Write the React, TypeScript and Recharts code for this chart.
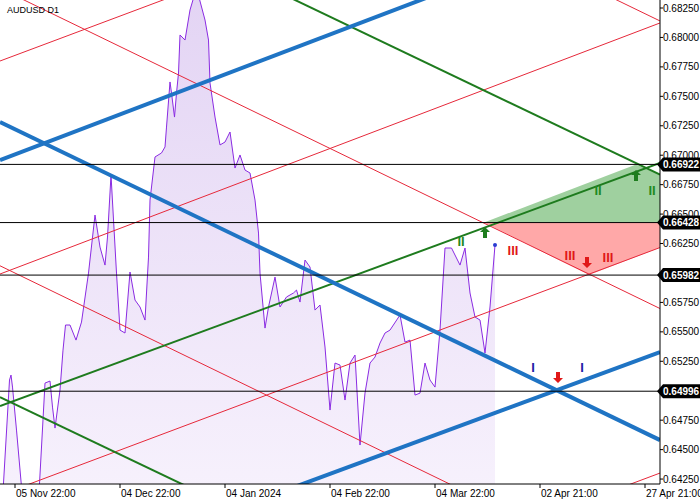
import React from 'react';
import {
  ComposedChart,
  Area,
  XAxis,
  YAxis,
  ReferenceLine,
  ReferenceDot,
} from 'recharts';

// D1 closes, bar index (left edge = 0) and price
const closeBars = [
  0.2, 1.9, 2.2, 2.5, 3.3, 5.0, 7.5, 9.0, 10.0, 10.5, 11.0, 12.0, 12.6, 13.1, 14.0, 15.2, 16.3, 17.7,
  19.0, 20.0, 21.0, 21.5, 22.2, 23.3, 24.0, 25.0, 26.0, 27.0, 28.0, 29.0, 29.7, 30.0, 31.0, 32.3,
  33.0, 33.3, 34.0, 34.3, 34.9, 35.3, 35.7, 36.0, 37.0, 38.0, 39.3, 41.0, 41.7, 42.0, 43.0, 44.0,
  45.0, 46.0, 47.0, 48.0, 49.0, 50.0, 51.0, 51.7, 52.0, 53.0, 53.7, 55.0, 56.0, 57.3, 58.7, 59.3,
  60.0, 61.0, 62.0, 63.0, 64.0, 65.0, 66.0, 67.0, 68.0, 69.0, 70.0, 71.0, 72.0, 73.0, 74.0, 75.0,
  76.0, 77.0, 78.0, 80.0, 81.0, 82.0, 83.0, 84.0, 85.0, 86.0, 87.0, 88.0, 89.0, 90.3, 92.0, 93.0,
  94.0, 95.0, 96.0, 97.0, 98.0, 99.0,
];
const closePrices = [
  0.6385, 0.65091, 0.65133, 0.65031, 0.64666, 0.6385, 0.639, 0.65065, 0.65082, 0.64861, 0.64683,
  0.65006, 0.65345, 0.65558, 0.65558, 0.6543, 0.65583, 0.65999, 0.66492, 0.6622, 0.66067, 0.66305,
  0.66832, 0.65999, 0.65515, 0.6549, 0.66008, 0.6577, 0.65711, 0.656, 0.66135, 0.66619, 0.66985,
  0.67019, 0.6707, 0.67239, 0.67622, 0.67528, 0.67324, 0.67528, 0.67698, 0.68021, 0.67978, 0.68233,
  0.6842, 0.68148, 0.67978, 0.67613, 0.67324, 0.67087, 0.67112, 0.67197, 0.66891, 0.67002, 0.66874,
  0.66849, 0.66619, 0.66339, 0.65999, 0.65532, 0.65711, 0.65965, 0.65711, 0.65796, 0.6583, 0.65855,
  0.65753, 0.6611, 0.6605, 0.65685, 0.65728, 0.65371, 0.64836, 0.65235, 0.65218, 0.64921, 0.65235,
  0.65303, 0.64539, 0.6498, 0.65235, 0.65286, 0.65405, 0.6549, 0.65515, 0.65643, 0.65413, 0.6543,
  0.64963, 0.6498, 0.65235, 0.65091, 0.65031, 0.65515, 0.66212, 0.66212, 0.66067, 0.66212, 0.6583,
  0.65626, 0.656, 0.6532, 0.65711, 0.66237,
];

const timeTicks = [3, 24, 45, 66, 87, 108, 129];
const timeLabels = [
  '05 Nov 22:00',
  '04 Dec 22:00',
  '04 Jan 2024',
  '04 Feb 22:00',
  '04 Mar 22:00',
  '02 Apr 21:00',
  '27 Apr 21:00',
];
const priceTicks = [
  0.6425, 0.645, 0.6475, 0.65, 0.6525, 0.655, 0.6575, 0.66, 0.6625, 0.665, 0.6675, 0.67, 0.6725,
  0.675, 0.6775, 0.68, 0.6825,
];

const levelPrices = [0.66922, 0.66428, 0.65982, 0.64996];

// trend lines: price at the left edge (bar 0) and at the right edge (bar 132)
const redStart = [0.68417, 0.66061, 0.70857, 0.678, 0.65991, 0.64114, 0.62199];
const redEnd = [0.65698, 0.63341, 0.6814, 0.69898, 0.68123, 0.66216, 0.64301];
const greenStart = [0.6487, 0.69516, 0.64946];
const greenEnd = [0.66934, 0.66836, 0.62267];
const blueStart = [0.66959, 0.67282, 0.6326];
const blueEnd = [0.69091, 0.64581, 0.65328];

// target zones above / below the 0.66428 level
const buyZoneBars = [96.8, 127.2, 132];
const buyZoneTop = [0.66428, 0.66922, 0.66836];
const sellZoneBars = [96.8, 117.8, 132];
const sellZoneBottom = [0.66428, 0.65982, 0.66216];

const waveText = ['II', 'II', 'II', 'III', 'III', 'III', 'I', 'I'];
const waveBars = [92.2, 119.6, 130.4, 102.6, 114, 121.6, 106.6, 116.4];
const wavePrices = [0.66271, 0.66704, 0.66704, 0.66195, 0.66152, 0.66135, 0.65201, 0.65201];
const waveColors = ['#1f8a1f', '#1f8a1f', '#1f8a1f', '#e01818', '#e01818', '#e01818', '#2020a8', '#2020a8'];

const arrowDirs = ['up', 'up', 'down', 'down'];
const arrowBars = [97, 127.2, 117.4, 111.6];
const arrowPrices = [0.66339, 0.66823, 0.66093, 0.65116];

const X_MAX = 132;
const Y_MIN = 0.64208;
const Y_MAX = 0.68318;

const priceData = closeBars.map((bar, i) => ({ bar, close: closePrices[i] }));
const buyZone = buyZoneBars.map((bar, i) => ({ bar, range: [levelPrices[1], buyZoneTop[i]] }));
const sellZone = sellZoneBars.map((bar, i) => ({ bar, range: [sellZoneBottom[i], levelPrices[1]] }));

const FONT = '"Liberation Sans", Arial, sans-serif';

const TimeTick = (props: any) => {
  const { x, y, payload } = props;
  const idx = timeTicks.indexOf(payload.value);
  return (
    <text x={x + 1} y={y + 9} fontSize={10} fontFamily={FONT} fill="#000" textAnchor="start">
      {timeLabels[idx]}
    </text>
  );
};

// plain price labels first, level tags last so they cover the labels under them
const PriceTick = (props: any) => {
  const { x, y, payload } = props;
  const v = payload.value;
  if (levelPrices.includes(v)) {
    return (
      <g>
        <path
          d={`M${x - 6},${y} L${x},${y - 7} L${x + 40},${y - 7} L${x + 40},${y + 7} L${x},${y + 7} Z`}
          fill="#000"
        />
        <text x={x} y={y} dy="0.36em" fontSize={10} fontWeight="bold" fontFamily={FONT} fill="#fff">
          {v.toFixed(5)}
        </text>
      </g>
    );
  }
  return (
    <text x={x} y={y} dy="0.36em" fontSize={10} fontFamily={FONT} fill="#000" textAnchor="start">
      {v.toFixed(5)}
    </text>
  );
};

const WaveMark = (text: string, color: string) => (props: any) => (
  <text
    x={props.cx}
    y={props.cy}
    dy="0.36em"
    textAnchor="middle"
    fontSize={13}
    fontWeight="bold"
    fontFamily={FONT}
    fill={color}
  >
    {text}
  </text>
);

const ArrowMark = (dir: string) => (props: any) => {
  const { cx, cy } = props;
  const s = dir === 'up' ? 1 : -1;
  const color = dir === 'up' ? '#1e7d1e' : '#e01818';
  const d = `M${cx},${cy - 6 * s} L${cx + 5},${cy - 1 * s} L${cx + 2},${cy - 1 * s} L${cx + 2},${cy + 5 * s} L${cx - 2},${cy + 5 * s} L${cx - 2},${cy - 1 * s} L${cx - 5},${cy - 1 * s} Z`;
  return <path d={d} fill={color} />;
};

const trend = (starts: number[], ends: number[], color: string, width: number, key: string) =>
  starts.map((p, i) => (
    <ReferenceLine
      key={`${key}${i}`}
      segment={[
        { x: 0, y: p },
        { x: X_MAX, y: ends[i] },
      ]}
      stroke={color}
      strokeWidth={width}
      ifOverflow="hidden"
    />
  ));

export default function App() {
  return (
    <div style={{ position: 'fixed', left: 0, top: 0, width: 700, height: 500, background: '#fff' }}>
      <ComposedChart width={700} height={500} margin={{ top: 0, right: 0, bottom: 0, left: 0 }}>
        <defs>
          <linearGradient id="closeFill" x1="0" y1="0" x2="0" y2="1">
            <stop offset="0%" stopColor="#e3d4f4" />
            <stop offset="100%" stopColor="#f8f3fd" />
          </linearGradient>
        </defs>
        <XAxis
          dataKey="bar"
          type="number"
          domain={[0, X_MAX]}
          allowDataOverflow
          ticks={timeTicks}
          interval={0}
          tick={<TimeTick />}
          tickSize={4}
          tickMargin={0}
          height={16}
          axisLine={{ stroke: '#000' }}
          tickLine={{ stroke: '#000' }}
        />
        <YAxis
          orientation="right"
          type="number"
          domain={[Y_MIN, Y_MAX]}
          allowDataOverflow
          ticks={[...priceTicks, ...levelPrices]}
          interval={0}
          width={40}
          tickSize={3}
          tickMargin={0}
          tick={<PriceTick />}
          axisLine={{ stroke: '#000' }}
          tickLine={{ stroke: '#000' }}
        />
        <Area
          data={priceData}
          dataKey="close"
          type="linear"
          stroke="#8a2be2"
          strokeWidth={1}
          fill="url(#closeFill)"
          fillOpacity={1}
          baseValue={Y_MIN}
          isAnimationActive={false}
          dot={false}
          activeDot={false}
        />
        <Area
          data={buyZone}
          dataKey="range"
          type="linear"
          stroke="none"
          fill="#9fd09f"
          fillOpacity={1}
          isAnimationActive={false}
          dot={false}
          activeDot={false}
        />
        <Area
          data={sellZone}
          dataKey="range"
          type="linear"
          stroke="none"
          fill="#ffa8a8"
          fillOpacity={1}
          isAnimationActive={false}
          dot={false}
          activeDot={false}
        />
        {trend(redStart, redEnd, '#e6283a', 1, 'r')}
        {trend(greenStart, greenEnd, '#1e7b1e', 2, 'g')}
        {trend(blueStart, blueEnd, '#1f74c4', 4, 'b')}
        {levelPrices.map((v) => (
          <ReferenceLine key={`lvl${v}`} y={v} stroke="#000" strokeWidth={1} />
        ))}
        <ReferenceDot
          x={closeBars[closeBars.length - 1]}
          y={closePrices[closePrices.length - 1]}
          r={2}
          fill="#2a3bd1"
          stroke="none"
        />
        {waveText.map((t, i) => (
          <ReferenceDot
            key={`w${i}`}
            x={waveBars[i]}
            y={wavePrices[i]}
            r={1}
            shape={WaveMark(t, waveColors[i])}
          />
        ))}
        {arrowDirs.map((d, i) => (
          <ReferenceDot key={`a${i}`} x={arrowBars[i]} y={arrowPrices[i]} r={1} shape={ArrowMark(d)} />
        ))}
      </ComposedChart>
      <div
        style={{
          position: 'absolute',
          left: 7,
          top: 4,
          fontSize: 9,
          lineHeight: '12px',
          fontFamily: FONT,
          color: '#000',
        }}
      >
        AUDUSD D1
      </div>
    </div>
  );
}
